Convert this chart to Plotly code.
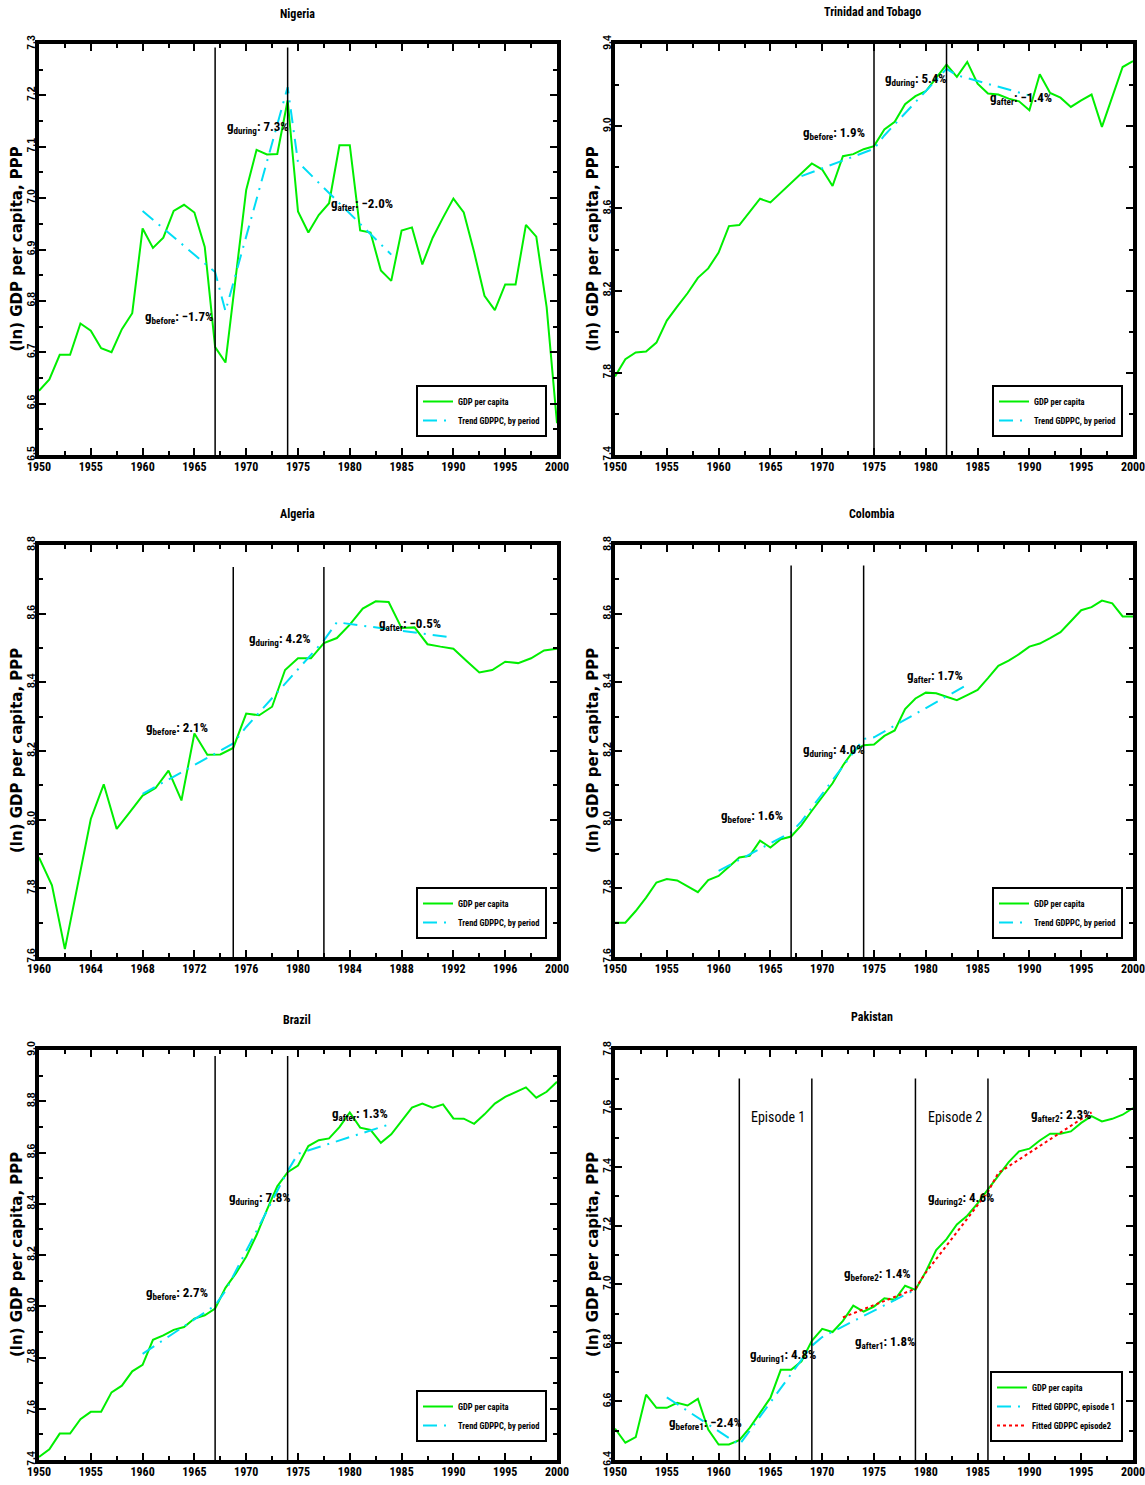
import plotly.graph_objects as go

W, H = 1145, 1485

# ---------------- data ----------------
years_1950 = list(range(1950, 2001))
years_1960 = list(range(1960, 2001))

nigeria_gdp = [6.625, 6.647, 6.695, 6.695, 6.756, 6.742, 6.708, 6.700, 6.745, 6.776,
               6.941, 6.903, 6.923, 6.975, 6.987, 6.972, 6.905, 6.710, 6.680, 6.850,
               7.016, 7.094, 7.085, 7.086, 7.190, 6.974, 6.933, 6.967, 6.990, 7.103,
               7.103, 6.937, 6.933, 6.859, 6.839, 6.937, 6.943, 6.871, 6.923, 6.962,
               6.999, 6.972, 6.895, 6.810, 6.782, 6.832, 6.832, 6.948, 6.925, 6.788, 6.562]
nigeria_trend_years = [1960, 1967, 1968, 1974, 1975, 1984]
nigeria_trend_vals = [6.975, 6.856, 6.780, 7.216, 7.070, 6.890]

trinidad_gdp = [7.782, 7.866, 7.899, 7.904, 7.947, 8.054, 8.122, 8.187, 8.262, 8.308,
                8.385, 8.514, 8.519, 8.581, 8.647, 8.629, 8.676, 8.721, 8.767, 8.819,
                8.789, 8.709, 8.854, 8.864, 8.888, 8.903, 8.984, 9.021, 9.107, 9.146,
                9.170, 9.235, 9.300, 9.240, 9.313, 9.207, 9.159, 9.154, 9.134, 9.121,
                9.078, 9.253, 9.162, 9.139, 9.094, 9.126, 9.154, 8.997, 9.143, 9.288, 9.317]
trinidad_trend_years = [1968, 1975, 1976, 1982, 1983, 1990]
trinidad_trend_vals = [8.757, 8.890, 8.955, 9.279, 9.248, 9.150]

algeria_gdp = [7.890, 7.809, 7.623, 7.817, 8.002, 8.103, 7.973, 8.021, 8.070, 8.092,
               8.143, 8.056, 8.251, 8.189, 8.190, 8.209, 8.309, 8.304, 8.329, 8.436,
               8.470, 8.470, 8.514, 8.529, 8.568, 8.615, 8.636, 8.634, 8.558, 8.560,
               8.511, 8.504, 8.498, 8.463, 8.429, 8.436, 8.460, 8.456, 8.470, 8.493, 8.498]
algeria_trend_years = [1968, 1975, 1976, 1982, 1983, 1992]
algeria_trend_vals = [8.075, 8.222, 8.270, 8.522, 8.575, 8.530]

colombia_gdp = [7.700, 7.700, 7.734, 7.773, 7.817, 7.827, 7.823, 7.807, 7.789, 7.824,
                7.836, 7.863, 7.890, 7.895, 7.939, 7.919, 7.943, 7.951, 7.984, 8.026,
                8.065, 8.106, 8.158, 8.200, 8.217, 8.219, 8.244, 8.260, 8.322, 8.353,
                8.370, 8.368, 8.358, 8.348, 8.363, 8.378, 8.412, 8.448, 8.463, 8.482,
                8.504, 8.513, 8.529, 8.546, 8.578, 8.610, 8.619, 8.638, 8.630, 8.592, 8.592]
colombia_trend_years = [1960, 1967, 1968, 1974, 1975, 1984]
colombia_trend_vals = [7.851, 7.963, 7.995, 8.235, 8.240, 8.393]

brazil_gdp = [7.412, 7.442, 7.503, 7.503, 7.559, 7.588, 7.588, 7.664, 7.690, 7.746,
              7.771, 7.869, 7.886, 7.908, 7.919, 7.952, 7.965, 7.991, 8.072, 8.128,
              8.193, 8.278, 8.376, 8.468, 8.523, 8.549, 8.625, 8.648, 8.655, 8.699,
              8.756, 8.697, 8.688, 8.638, 8.671, 8.723, 8.775, 8.791, 8.775, 8.788,
              8.733, 8.732, 8.712, 8.749, 8.791, 8.817, 8.834, 8.854, 8.814, 8.837, 8.876]
brazil_trend_years = [1960, 1967, 1968, 1974, 1975, 1984]
brazil_trend_vals = [7.814, 8.003, 8.060, 8.528, 8.595, 8.712]

pakistan_gdp = [6.507, 6.459, 6.478, 6.623, 6.578, 6.578, 6.595, 6.586, 6.609, 6.504,
                6.453, 6.453, 6.468, 6.510, 6.561, 6.612, 6.708, 6.708, 6.737, 6.807,
                6.848, 6.837, 6.875, 6.927, 6.907, 6.924, 6.952, 6.947, 6.995, 6.981,
                7.043, 7.117, 7.154, 7.204, 7.234, 7.276, 7.324, 7.372, 7.417, 7.454,
                7.463, 7.491, 7.514, 7.514, 7.522, 7.551, 7.574, 7.556, 7.565, 7.579, 7.602]
pakistan_ep1_years = [1955, 1962, 1963, 1969, 1970, 1979]
pakistan_ep1_vals = [6.614, 6.452, 6.500, 6.790, 6.820, 6.982]
pakistan_ep2_years = [1972, 1979, 1980, 1986, 1987, 1996]
pakistan_ep2_vals = [6.887, 6.985, 7.040, 7.316, 7.380, 7.587]

titles = ["Nigeria", "Trinidad and Tobago", "Algeria", "Colombia", "Brazil", "Pakistan"]
y_ranges = [(6.5, 7.3), (7.4, 9.4), (7.6, 8.8), (7.6, 8.8), (7.4, 9.0), (6.4, 7.8)]
y_dticks = [0.1, 0.4, 0.2, 0.2, 0.2, 0.2]
x_ranges = [(1950, 2000), (1950, 2000), (1960, 2000), (1950, 2000), (1950, 2000), (1950, 2000)]
x_dticks = [5, 5, 4, 5, 5, 5]
episode_lines = [[1967, 1974], [1975, 1982], [1975, 1982], [1967, 1974], [1967, 1974],
                 [1962, 1969, 1979, 1986]]
episode_line_tops = [7.293, 9.4, 8.736, 8.74, 8.977, 7.703]

growth_labels = [
    [(1960.0, 6.767, "before", "−1.7%"), (1968.0, 7.138, "during", "7.3%"), (1978.0, 6.988, "after", "−2.0%")],
    [(1968.0, 8.965, "before", "1.9%"), (1975.9, 9.225, "during", "5.4%"), (1986.0, 9.136, "after", "−1.4%")],
    [(1968.1, 8.265, "before", "2.1%"), (1976.05, 8.524, "during", "4.2%"), (1986.1, 8.568, "after", "−0.5%")],
    [(1960.0, 8.010, "before", "1.6%"), (1968.0, 8.202, "during", "4.0%"), (1978.0, 8.417, "after", "1.7%")],
    [(1960.1, 8.050, "before", "2.7%"), (1968.1, 8.422, "during", "7.8%"), (1978.05, 8.749, "after", "1.3%")],
    [(1955.0, 6.524, "before1", "−2.4%"), (1962.85, 6.757, "during1", "4.8%"),
     (1971.9, 7.034, "before2", "1.4%"), (1973.0, 6.800, "after1", "1.8%"),
     (1980.05, 7.293, "during2", "4.6%"), (1990.0, 7.576, "after2", "2.3%")],
]
episode_texts = [(1962.9, 7.571, "Episode 1"), (1980.0, 7.571, "Episode 2")]

# ---------------- geometry (pixels of the page) ----------------
col_px = [(39, 557), (615, 1133)]
row_px = [(44, 455), (545, 957), (1050, 1460)]
title_pos = [(297, 14), (872, 12), (297, 514), (872, 514), (297, 1020), (872, 1017)]

NARROW = "Roboto Condensed, DejaVu Sans Condensed, Liberation Sans Narrow, Arial Narrow, Liberation Sans, sans-serif"
GREEN = "#00EE00"
CYAN = "#00DDF5"
RED = "#FF0000"
DASHDOT = "14px,7px,2px,7px"


def px_x(p):
    return p / W


def px_y(p):
    return 1 - p / H


fig = go.Figure()
layout = dict(width=W, height=H, margin=dict(l=0, r=0, t=0, b=0, autoexpand=False),
              paper_bgcolor="white", plot_bgcolor="white", showlegend=True)
annotations = []
shapes = []

gdp_series = [nigeria_gdp, trinidad_gdp, algeria_gdp, colombia_gdp, brazil_gdp, pakistan_gdp]
gdp_years = [years_1950, years_1950, years_1960, years_1950, years_1950, years_1950]
trend_series = [(nigeria_trend_years, nigeria_trend_vals), (trinidad_trend_years, trinidad_trend_vals),
                (algeria_trend_years, algeria_trend_vals), (colombia_trend_years, colombia_trend_vals),
                (brazil_trend_years, brazil_trend_vals), (pakistan_ep1_years, pakistan_ep1_vals)]

for i in range(6):
    r, c = divmod(i, 2)
    x0p, x1p = col_px[c]
    y0p, y1p = row_px[r]
    xd = [px_x(x0p), px_x(x1p)]
    yd = [px_y(y1p), px_y(y0p)]
    sfx = "" if i == 0 else str(i + 1)
    xa, ya = "x" + sfx, "y" + sfx
    lg = "legend" if i == 0 else "legend" + str(i + 1)

    common = dict(ticks="inside", ticklen=7, tickwidth=1.5, tickcolor="black",
                  showline=True, linewidth=3.5, linecolor="black", mirror="allticks",
                  showgrid=False, zeroline=False, automargin=False, ticklabeloverflow="allow")
    layout["xaxis" + sfx] = dict(domain=xd, anchor=ya, range=list(x_ranges[i]),
                                 tick0=x_ranges[i][0], dtick=x_dticks[i], tickformat="d",
                                 minor=dict(dtick=x_dticks[i] / 2, ticks="inside", ticklen=4,
                                            tickcolor="black"),
                                 tickfont=dict(family=NARROW, size=12, color="black", weight="bold"),
                                 ticklabelstandoff=-2,
                                 **common)
    layout["yaxis" + sfx] = dict(domain=yd, anchor=xa, range=list(y_ranges[i]),
                                 tick0=y_ranges[i][0], dtick=y_dticks[i], tickformat=".1f",
                                 tickangle=-90, ticklabelstandoff=-4,
                                 minor=dict(dtick=y_dticks[i] / 2, ticks="inside", ticklen=4,
                                            tickcolor="black"),
                                 tickfont=dict(family="Liberation Sans", size=10.5, color="black",
                                               weight="bold"),
                                 **common)

    fig.add_trace(go.Scatter(x=gdp_years[i], y=gdp_series[i], mode="lines", name="GDP per capita",
                             line=dict(color=GREEN, width=2), xaxis=xa, yaxis=ya, legend=lg))
    ty, tv = trend_series[i]
    tname = "Fitted GDPPC, episode 1" if i == 5 else "Trend GDPPC, by period"
    fig.add_trace(go.Scatter(x=ty, y=tv, mode="lines", name=tname,
                             line=dict(color=CYAN, width=2, dash=DASHDOT), xaxis=xa, yaxis=ya, legend=lg))
    if i == 5:
        fig.add_trace(go.Scatter(x=pakistan_ep2_years, y=pakistan_ep2_vals, mode="lines",
                                 name="Fitted GDPPC episode2",
                                 line=dict(color=RED, width=2, dash="dot"), xaxis=xa, yaxis=ya, legend=lg))

    layout[lg] = dict(x=px_x(x1p - 10), xanchor="right", y=px_y(y1p - 18), yanchor="bottom",
                      bgcolor="white", bordercolor="black", borderwidth=2,
                      font=dict(family=NARROW, size=8.5, color="black", weight="bold"),
                      itemwidth=30, tracegroupgap=0)

    for yr in episode_lines[i]:
        shapes.append(dict(type="line", xref=xa, yref=ya, x0=yr, x1=yr,
                           y0=y_ranges[i][0], y1=episode_line_tops[i],
                           line=dict(color="black", width=1.5), layer="above"))

    for (gx, gy, sub, val) in growth_labels[i]:
        annotations.append(dict(xref=xa, yref=ya, x=gx, y=gy, xanchor="left", yanchor="middle",
                                showarrow=False, text="g<sub>" + sub + "</sub>: " + val,
                                font=dict(family=NARROW, size=13, color="black", weight="bold")))
    if i == 5:
        for (ex, ey, et) in episode_texts:
            annotations.append(dict(xref=xa, yref=ya, x=ex, y=ey, xanchor="left", yanchor="middle",
                                    showarrow=False, text=et,
                                    font=dict(family=NARROW, size=14, color="black")))

    tx, tyy = title_pos[i]
    annotations.append(dict(xref="paper", yref="paper", x=px_x(tx), y=px_y(tyy),
                            xanchor="center", yanchor="middle", showarrow=False, text=titles[i],
                            font=dict(family=NARROW, size=12, color="black", weight="bold")))
    # y-axis title
    annotations.append(dict(xref="paper", yref="paper", x=px_x(x0p - 22), y=px_y((y0p + y1p) / 2),
                            xanchor="center", yanchor="middle", showarrow=False, textangle=-90,
                            text="(ln) GDP per capita, PPP",
                            font=dict(family="DejaVu Sans", size=15, color="black", weight="bold")))

layout["annotations"] = annotations
layout["shapes"] = shapes
fig.update_layout(**layout)
# remove the browser's default 8px page margin so the figure fills the window exactly
fig.write_html("out.html", config={"displayModeBar": False},
               post_script="document.body.style.margin='0px';")
